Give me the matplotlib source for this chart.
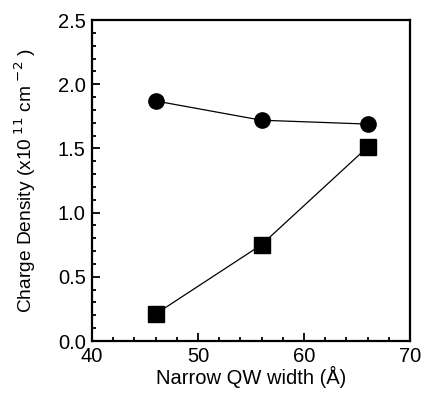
import matplotlib
matplotlib.use("Agg")
import matplotlib.pyplot as plt
from matplotlib.ticker import MultipleLocator

plt.rcParams['font.family'] = ['Liberation Sans', 'DejaVu Sans']

# data
widths = [46, 56, 66]
circles = [1.87, 1.72, 1.69]
squares = [0.21, 0.75, 1.51]

fig = plt.figure(figsize=(4.23, 3.94), dpi=100)
ax = fig.add_axes([0.2175, 0.1345, 0.7515, 0.8145])

ax.plot(widths, circles, '-o', color='black', lw=0.9, ms=11)
ax.plot(widths, squares, '-s', color='black', lw=0.9, ms=11)

ax.set_xlim(40, 70)
ax.set_ylim(0, 2.5)
ax.xaxis.set_major_locator(MultipleLocator(10))
ax.xaxis.set_minor_locator(MultipleLocator(2))
ax.yaxis.set_major_locator(MultipleLocator(0.5))
ax.yaxis.set_minor_locator(MultipleLocator(0.1))
ax.yaxis.set_major_formatter(plt.FormatStrFormatter('%.1f'))

ax.tick_params(which='both', direction='in', top=False, right=False, width=1.3)
ax.tick_params(which='major', length=6, labelsize=14.5, pad=4.5)
ax.tick_params(which='minor', length=3)
for s in ax.spines.values():
    s.set_linewidth(1.6)

ax.set_xlabel('Narrow QW width (Å)', fontsize=14.5, labelpad=0)
ax.set_ylabel('Charge Density (x10$^{\\ 11}$ cm$^{\\ {-2}}$ )', fontsize=13.8, labelpad=14)

plt.savefig('out.png', dpi=100)
